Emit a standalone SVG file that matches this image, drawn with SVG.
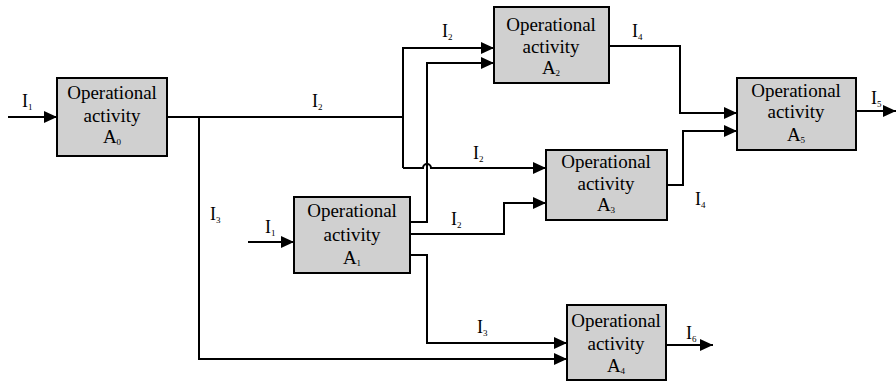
<svg xmlns="http://www.w3.org/2000/svg" width="896" height="383" viewBox="0 0 896 383">
<style>
.box{fill:#d0d0d0;stroke:#000;stroke-width:2}
.t{font-family:"Liberation Serif","Times New Roman",serif;font-size:19px;fill:#000;text-anchor:middle}
.l{font-family:"Liberation Serif","Times New Roman",serif;font-size:18px;fill:#000}
.s{font-size:9px}
.c{fill:none;stroke:#000;stroke-width:2}
</style>
<defs>
<marker id="ah" markerUnits="userSpaceOnUse" markerWidth="13" markerHeight="12" refX="13" refY="6" orient="auto" viewBox="0 0 13 12">
<path d="M0,0 L13,6 L0,12 z" fill="#000"/>
</marker>
</defs>
<g id="connectors">
<path class="c" d="M8,117 H57" marker-end="url(#ah)"/>
<path class="c" d="M167,117 H403"/>
<path class="c" d="M403,168 V48 H494" marker-end="url(#ah)"/>
<path class="c" d="M403,168 H423 a4,4 0 0 1 8,0 H546" marker-end="url(#ah)"/>
<path class="c" d="M199,117 V359 H567" marker-end="url(#ah)"/>
<path class="c" d="M248,242 H294" marker-end="url(#ah)"/>
<path class="c" d="M410,222 H427 V63 H494" marker-end="url(#ah)"/>
<path class="c" d="M410,234 H504 V203 H546" marker-end="url(#ah)"/>
<path class="c" d="M410,255 H427 V343 H567" marker-end="url(#ah)"/>
<path class="c" d="M609,46 H680 V113 H737" marker-end="url(#ah)"/>
<path class="c" d="M667,185 H683 V131 H737" marker-end="url(#ah)"/>
<path class="c" d="M856,111 H896" marker-end="url(#ah)"/>
<path class="c" d="M666,345 H713" marker-end="url(#ah)"/>
</g>
<g id="labels">
<text class="l" x="22" y="107">I<tspan class="s" dy="3">1</tspan></text>
<text class="l" x="312" y="107">I<tspan class="s" dy="3">2</tspan></text>
<text class="l" x="442" y="37">I<tspan class="s" dy="3">2</tspan></text>
<text class="l" x="632" y="37">I<tspan class="s" dy="3">4</tspan></text>
<text class="l" x="871" y="104">I<tspan class="s" dy="3">5</tspan></text>
<text class="l" x="473" y="159">I<tspan class="s" dy="3">2</tspan></text>
<text class="l" x="210" y="220">I<tspan class="s" dy="3">3</tspan></text>
<text class="l" x="265" y="233">I<tspan class="s" dy="3">1</tspan></text>
<text class="l" x="451" y="225">I<tspan class="s" dy="3">2</tspan></text>
<text class="l" x="695" y="205">I<tspan class="s" dy="3">4</tspan></text>
<text class="l" x="477" y="333">I<tspan class="s" dy="3">3</tspan></text>
<text class="l" x="686" y="339">I<tspan class="s" dy="3">6</tspan></text>
</g>
<g id="A0">
<rect class="box" x="57" y="78" width="110" height="78"/>
<text class="t" x="112" y="99">Operational</text>
<text class="t" x="112" y="122">activity</text>
<text class="t" x="112" y="143">A<tspan class="s" dy="2">0</tspan></text>
</g>
<g id="A1">
<rect class="box" x="294" y="197" width="116" height="76"/>
<text class="t" x="352" y="217">Operational</text>
<text class="t" x="352" y="241">activity</text>
<text class="t" x="352" y="264">A<tspan class="s" dy="2">1</tspan></text>
</g>
<g id="A2">
<rect class="box" x="494" y="7" width="115" height="76"/>
<text class="t" x="551" y="31">Operational</text>
<text class="t" x="551" y="53">activity</text>
<text class="t" x="551" y="74">A<tspan class="s" dy="2">2</tspan></text>
</g>
<g id="A3">
<rect class="box" x="546" y="150" width="121" height="70"/>
<text class="t" x="606" y="168">Operational</text>
<text class="t" x="606" y="190">activity</text>
<text class="t" x="606" y="211">A<tspan class="s" dy="2">3</tspan></text>
</g>
<g id="A4">
<rect class="box" x="567" y="305" width="99" height="75"/>
<text class="t" x="616" y="327">Operational</text>
<text class="t" x="616" y="350">activity</text>
<text class="t" x="616" y="372">A<tspan class="s" dy="2">4</tspan></text>
</g>
<g id="A5">
<rect class="box" x="737" y="78" width="119" height="72"/>
<text class="t" x="796" y="97">Operational</text>
<text class="t" x="796" y="118">activity</text>
<text class="t" x="796" y="141">A<tspan class="s" dy="2">5</tspan></text>
</g>
</svg>
